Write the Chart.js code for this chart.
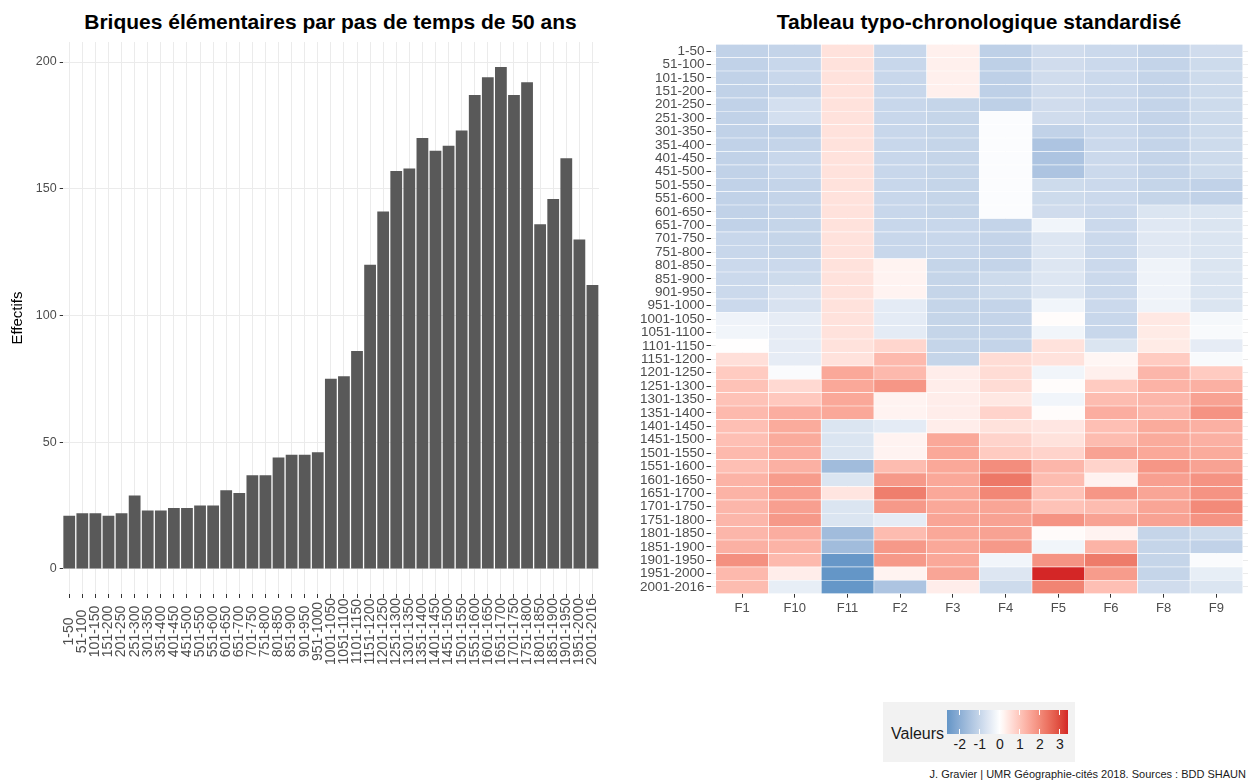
<!DOCTYPE html>
<html lang="fr">
<head>
<meta charset="utf-8">
<title>Briques élémentaires</title>
<script src="https://cdn.jsdelivr.net/npm/chart.js@4.4.1/dist/chart.umd.min.js"></script>
<style>
  html, body { margin: 0; padding: 0; background: #fff; }
  body { position: relative; width: 1248px; height: 780px; overflow: hidden;
         font-family: "Liberation Sans", Arial, sans-serif; }
  canvas { position: absolute; top: 0; }
  .title { position: absolute; top: 11px; text-align: center; font-weight: bold;
           font-size: 21px; line-height: 21px; color: #000; }
  #legend { position: absolute; left: 883px; top: 702px; width: 192px; height: 60px; background: #f2f2f2; }
  #legend .lab { position: absolute; left: 8px; top: 23px; font-size: 16px; line-height: 18px; color: #1a1a1a; }
  #bar { position: absolute; left: 64px; top: 8px; width: 121px; height: 24px; }
  .tick { position: absolute; width: 1px; height: 5px; background: #fff; }
  .tlab { position: absolute; top: 35px; font-size: 14px; line-height: 14px; color: #1a1a1a; transform: translateX(-50%); }
  #caption { position: absolute; right: 2px; top: 768px; font-size: 11px; line-height: 12px; color: #1a1a1a; }
</style>
</head>
<body>
<div class="title" style="left:61px; width:539px;">Briques élémentaires par pas de temps de 50 ans</div>
<div class="title" style="left:710px; width:538px;">Tableau typo-chronologique standardisé</div>
<canvas id="effectifs" width="624" height="680" style="left:0"></canvas>
<canvas id="tableau" width="624" height="640" style="left:624px"></canvas>
<div id="legend"><span class="lab">Valeurs</span><div id="bar"></div></div>
<div id="caption">J. Gravier | UMR Géographie-cités 2018. Sources : BDD SHAUN</div>

<script>
const periods = ['1-50', '51-100', '101-150', '151-200', '201-250', '251-300', '301-350', '351-400',
  '401-450', '451-500', '501-550', '551-600', '601-650', '651-700', '701-750', '751-800', '801-850',
  '851-900', '901-950', '951-1000', '1001-1050', '1051-1100', '1101-1150', '1151-1200', '1201-1250',
  '1251-1300', '1301-1350', '1351-1400', '1401-1450', '1451-1500', '1501-1550', '1551-1600',
  '1601-1650', '1651-1700', '1701-1750', '1751-1800', '1801-1850', '1851-1900', '1901-1950',
  '1951-2000', '2001-2016'];

const counts = [21, 22, 22, 21, 22, 29, 23, 23, 24, 24, 25, 25, 31, 30, 37, 37, 44, 45, 45, 46,
  75, 76, 86, 120, 141, 157, 158, 170, 165, 167, 173, 187, 194, 198, 187, 192, 136, 146, 162, 130, 112];
const countTicks = [0, 50, 100, 150, 200];

const families = ['F1', 'F10', 'F11', 'F2', 'F3', 'F4', 'F5', 'F6', 'F8', 'F9'];

// standardised values, one array per family, rows in the order of periods
const heatF1 = [-1.1, -1.1, -1.1, -1.1, -1.1, -1.1, -1.1, -1.1, -1.1, -1.1, -1.1, -1.1, -1.1, -1.1, -0.97, -0.97,
  -0.92, -0.92, -0.92, -0.92, -0.28, -0.24, 0.02, 0.55, 0.9, 1.05, 1.05, 1.2, 1.1, 1.1, 1.2, 1.1, 1.3, 1.3,
  1.25, 1.25, 1.25, 1.35, 1.9, 1.2, 1.15];
const heatF10 = [-1.05, -0.97, -0.97, -1.05, -0.78, -0.78, -1.15, -1.05, -0.97, -0.97, -1.05, -1.05, -1.05,
  -1.02, -1.02, -1.02, -0.92, -0.88, -0.7, -0.7, -0.45, -0.45, -0.45, -0.45, -0.09, 0.65, 0.95, 1.4, 1.45,
  1.45, 1.4, 1.35, 1.7, 1.65, 1.65, 1.75, 1.4, 1.3, 1.2, 0.3, -0.42];
const heatF11 = [0.5, 0.5, 0.5, 0.5, 0.5, 0.5, 0.5, 0.5, 0.5, 0.5, 0.5, 0.5, 0.5, 0.5, 0.5, 0.5, 0.5, 0.5, 0.5,
  0.5, 0.5, 0.5, 0.5, 0.5, 1.5, 1.5, 1.5, 1.5, -0.64, -0.64, -0.64, -1.65, -0.64, 0.45, -0.64, -0.64, -1.65,
  -1.65, -2.6, -2.64, -2.62];
const heatF2 = [-0.97, -0.97, -0.97, -0.97, -0.97, -0.97, -0.97, -0.97, -0.97, -0.97, -0.97, -0.97, -0.97,
  -0.97, -0.97, -0.97, 0.2, 0.2, 0.2, -0.48, -0.48, -0.48, 0.7, 1.2, 1.2, 1.8, 0.2, 0.2, -0.48, 0.2, 0.2,
  1.15, 1.75, 2.2, 1.75, -0.45, 1.15, 1.75, 1.75, 0.2, -1.44];
const heatF3 = [0.25, 0.25, 0.25, 0.25, -1.02, -1.02, -1.02, -1.02, -1.02, -1.02, -1.02, -1.02, -1.02, -0.97,
  -0.97, -0.97, -1.02, -1.02, -1.02, -1.02, -1.02, -1.02, -1.02, -1.02, 0.3, 0.3, 0.3, 0.3, 0.3, 1.5, 1.5,
  1.5, 1.5, 1.5, 1.5, 1.55, 1.5, 1.5, 1.5, 1.55, 0.3];
const heatF4 = [-1.15, -1.15, -1.15, -1.15, -1.15, -0.07, -0.07, -0.07, -0.07, -0.07, -0.07, -0.07, -0.07,
  -1.05, -1.05, -1.05, -1.05, -0.88, -0.88, -1.05, -1.05, -1.05, -1.05, 0.6, 0.6, 0.6, 0.4, 0.75, 0.5, 0.75,
  0.9, 1.95, 2.3, 2.05, 1.55, 1.6, 1.6, 1.75, -0.24, -0.6, -0.88];
const heatF5 = [-0.84, -0.84, -0.84, -0.84, -0.84, -0.84, -1.1, -1.44, -1.44, -1.44, -0.88, -0.88, -0.84,
  -0.24, -0.6, -0.6, -0.6, -0.6, -0.6, -0.24, 0.05, -0.24, 0.5, 0.5, -0.24, 0.05, -0.24, 0.05, 0.42, 0.5,
  0.75, 1.25, 1.15, 1.05, 1.05, 1.85, 0.07, -0.24, 1.85, 3.4, 2.1];
const heatF6 = [-0.92, -0.92, -0.92, -0.92, -0.92, -0.92, -0.92, -0.92, -0.92, -0.92, -0.92, -0.92, -0.92,
  -0.92, -0.92, -0.92, -0.92, -0.92, -0.92, -0.92, -0.97, -0.97, -0.64, 0.15, 0.25, 0.9, 1.15, 1.4, 1.1,
  1.15, 1.6, 0.75, 0.22, 1.8, 1.15, 1.6, 0.2, 1.3, 2.25, 1.7, 1.1];
const heatF8 = [-1.05, -1.05, -1.05, -1.05, -1.05, -1.05, -1.05, -1.05, -1.05, -1.05, -1.02, -1.02, -0.64,
  -0.55, -0.55, -0.55, -0.28, -0.28, -0.28, -0.28, 0.4, 0.35, 0.35, 0.9, 1.25, 1.3, 1.25, 1.25, 1.45, 1.45,
  1.5, 1.8, 1.65, 1.55, 1.55, 1.6, -1.02, -1.02, -1.02, -1.02, -0.84];
const heatF9 = [-0.84, -0.88, -0.88, -0.88, -0.88, -0.88, -0.88, -0.88, -0.88, -0.88, -1.1, -1.1, -0.64,
  -0.64, -0.64, -0.64, -0.64, -0.64, -0.64, -0.64, -0.17, -0.12, -0.45, -0.12, 0.9, 1.35, 1.6, 1.85, 1.35,
  1.35, 1.45, 1.6, 1.85, 1.85, 2.0, 1.85, -0.88, -1.1, -0.09, -0.42, -0.64];

const heatColumns = [heatF1, heatF10, heatF11, heatF2, heatF3, heatF4, heatF5, heatF6, heatF8, heatF9];
const legendTicks = [-2, -1, 0, 1, 2, 3];

// ---- diverging colour scale (white at 0, interpolated in Lab) ----
function toLab(hex) {
  const c = [1, 3, 5].map(i => parseInt(hex.substr(i, 2), 16) / 255)
    .map(v => v <= 0.04045 ? v / 12.92 : Math.pow((v + 0.055) / 1.055, 2.4));
  const X = (0.4124 * c[0] + 0.3576 * c[1] + 0.1805 * c[2]) / 0.95047;
  const Y = 0.2126 * c[0] + 0.7152 * c[1] + 0.0722 * c[2];
  const Z = (0.0193 * c[0] + 0.1192 * c[1] + 0.9505 * c[2]) / 1.08883;
  const f = t => t > 0.008856 ? Math.cbrt(t) : 7.787 * t + 16 / 116;
  return [116 * f(Y) - 16, 500 * (f(X) - f(Y)), 200 * (f(Y) - f(Z))];
}
function fromLab([L, a, b]) {
  const fy = (L + 16) / 116, fx = fy + a / 500, fz = fy - b / 200;
  const g = t => t > 0.2069 ? t * t * t : (t - 16 / 116) / 7.787;
  const X = g(fx) * 0.95047, Y = g(fy), Z = g(fz) * 1.08883;
  const lin = [3.2406 * X - 1.5372 * Y - 0.4986 * Z,
               -0.9689 * X + 1.8758 * Y + 0.0415 * Z,
               0.0557 * X - 0.2040 * Y + 1.0570 * Z];
  const rgb = lin.map(v => v <= 0.0031308 ? 12.92 * v : 1.055 * Math.pow(v, 1 / 2.4) - 0.055)
    .map(v => Math.round(Math.min(1, Math.max(0, v)) * 255));
  return `rgb(${rgb[0]},${rgb[1]},${rgb[2]})`;
}
const lowLab = toLab('#1f7ab7');
const midLab = [100, 0, 0];
const highLab = toLab('#d42626');
const allValues = heatColumns.flat();
const vMin = Math.min(...allValues);
const vMax = Math.max(...allValues);
const vLimit = Math.max(Math.abs(vMin), Math.abs(vMax));

function fillFor(v) {
  const t = Math.min(1, Math.abs(v) / vLimit);
  const end = v < 0 ? lowLab : highLab;
  return fromLab(midLab.map((m, i) => m + (end[i] - m) * t));
}

const fontStack = '"Liberation Sans", Arial, sans-serif';
Chart.defaults.font.family = fontStack;
Chart.defaults.animation = false;

const gridGrey = '#ebebeb';
const axisText = '#4d4d4d';

// vertical period labels, each one centred in the label band under the axis
const centredPeriodLabels = {
  id: 'centredPeriodLabels',
  afterDraw(chart) {
    const { ctx } = chart;
    const x = chart.scales.x;
    ctx.save();
    ctx.font = `14px ${fontStack}`;
    ctx.fillStyle = axisText;
    ctx.textAlign = 'center';
    ctx.textBaseline = 'middle';
    const longest = Math.max(...periods.map(p => ctx.measureText(p).width));
    const cy = x.top + 4 + longest / 2;
    periods.forEach((p, i) => {
      ctx.save();
      ctx.translate(x.getPixelForTick(i), cy);
      ctx.rotate(-Math.PI / 2);
      ctx.fillText(p, 0, 0);
      ctx.restore();
    });
    ctx.restore();
  }
};

// ---- left: bar chart of counts ----
new Chart(document.getElementById('effectifs'), {
  type: 'bar',
  data: {
    labels: periods,
    datasets: [{
      data: counts,
      backgroundColor: '#595959',
      barPercentage: 0.9,
      categoryPercentage: 1
    }]
  },
  options: {
    responsive: false,
    layout: { padding: { top: 42, right: 25, left: 0, bottom: 0 } },
    plugins: { legend: { display: false }, tooltip: { enabled: false } },
    scales: {
      x: {
        grid: { color: gridGrey, offset: false, tickColor: '#333', tickLength: 4 },
        border: { display: false },
        ticks: { display: false, autoSkip: false },
        afterFit: s => { s.height = 86; }
      },
      y: {
        min: -9.9,
        max: 207.9,
        afterBuildTicks: s => { s.ticks = countTicks.map(v => ({ value: v })); },
        grid: { color: gridGrey, tickColor: '#333', tickLength: 3 },
        border: { display: false },
        ticks: { color: axisText, font: { size: 12.5 }, padding: 3 },
        title: { display: true, text: 'Effectifs', color: '#000', font: { size: 15 }, padding: { top: 9 } },
        afterFit: s => { s.width = 62.7; }
      }
    }
  },
  plugins: [centredPeriodLabels]
});

// ---- right: heat map, one stacked dataset per family ----
new Chart(document.getElementById('tableau'), {
  type: 'bar',
  data: {
    labels: periods,
    datasets: families.map((f, i) => ({
      label: f,
      data: periods.map(() => 1),
      backgroundColor: heatColumns[i].map(fillFor),
      borderColor: '#ffffff',
      borderWidth: 0.6,
      borderSkipped: false,
      barPercentage: 1,
      categoryPercentage: 1
    }))
  },
  options: {
    responsive: false,
    indexAxis: 'y',
    layout: { padding: { top: 44.3, right: 0, left: 0, bottom: 0 } },
    plugins: { legend: { display: false }, tooltip: { enabled: false } },
    scales: {
      x: {
        type: 'linear',
        stacked: true,
        min: -0.1,
        max: 10.1,
        afterBuildTicks: s => { s.ticks = families.map((f, i) => ({ value: i + 0.5 })); },
        grid: { color: gridGrey, tickColor: '#333', tickLength: 4 },
        border: { display: false },
        ticks: { color: axisText, font: { size: 13 }, padding: 3, callback: (v, i) => families[i] },
        afterFit: s => { s.height = 46.3; }
      },
      y: {
        stacked: true,
        grid: { color: gridGrey, offset: false, tickColor: '#333', tickLength: 4 },
        border: { display: false },
        ticks: { autoSkip: false, color: axisText, font: { size: 13.5 }, padding: 2 },
        afterFit: s => { s.width = 86.5; }
      }
    }
  }
});

// ---- colour bar legend ----
const bar = document.getElementById('bar');
const steps = 30;
const stops = [];
for (let k = 0; k <= steps; k++) {
  const v = vMin + (vMax - vMin) * k / steps;
  stops.push(`${fillFor(v)} ${(100 * k / steps).toFixed(2)}%`);
}
bar.style.background = `linear-gradient(to right, ${stops.join(', ')})`;
const legend = document.getElementById('legend');
legendTicks.forEach(t => {
  const x = 64 + (t - vMin) / (vMax - vMin) * 121;
  [8, 27].forEach(top => {
    const m = document.createElement('div');
    m.className = 'tick';
    m.style.left = (x - 0.5) + 'px';
    m.style.top = top + 'px';
    legend.appendChild(m);
  });
  const l = document.createElement('span');
  l.className = 'tlab';
  l.style.left = x + 'px';
  l.textContent = t;
  legend.appendChild(l);
});
</script>
</body>
</html>
